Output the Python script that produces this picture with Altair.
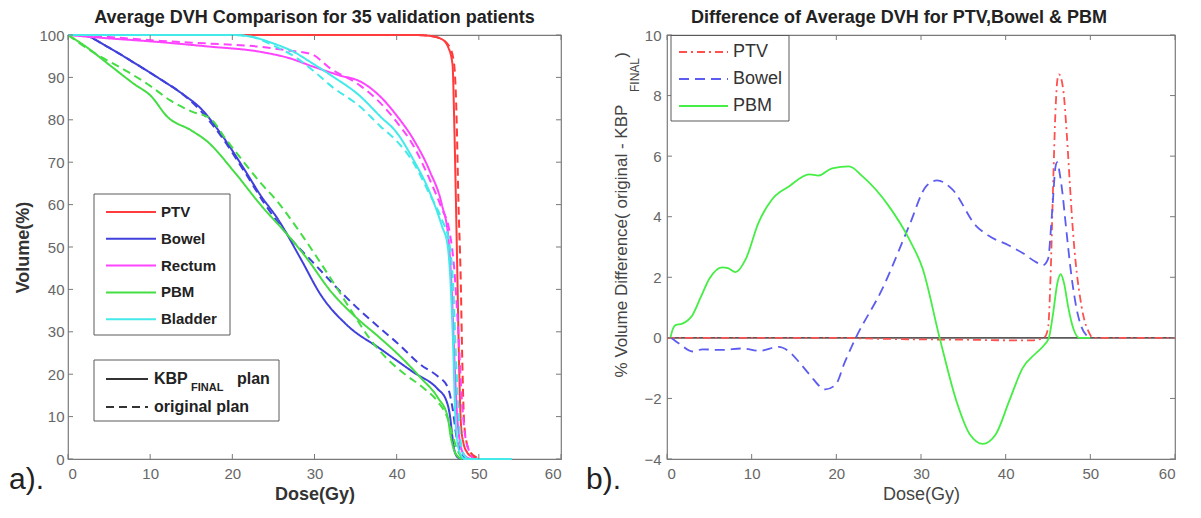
import altair as alt
import pandas as pd

# ---------------- data: left panel (average DVH) ----------------
ORGANS = ["PTV", "Bowel", "Rectum", "PBM", "Bladder"]
LEFT_COLORS = ["#ff3b3b", "#4040dc", "#ff44ff", "#44dd44", "#44eaea"]
PLANS = ["KBP_FINAL plan", "original plan"]

PTV_F_DOSE = [0, 42, 44, 45.5, 46.3, 46.8, 47.0, 47.2, 47.4, 47.6, 47.8, 48.1, 48.6, 49.3, 50]
PTV_F_VOL = [100, 100, 99.8, 99, 97, 93, 80, 62, 42, 22, 9, 4, 1.5, 0.4, 0]
PTV_O_DOSE = [0, 42, 44, 45.5, 46.5, 47.0, 47.3, 47.5, 47.8, 48.0, 48.2, 48.5, 49.0, 49.7, 50.3]
PTV_O_VOL = [100, 100, 99.8, 99, 97, 93, 80, 62, 42, 22, 9, 4, 1.5, 0.4, 0]

BOWEL_F_DOSE = [0, 1.6, 5, 8, 11.3, 14, 16.2, 18.5, 21.4, 23.5, 25.5, 28.3, 30.8, 34, 38, 42, 45, 46, 46.5, 46.8, 47.1, 47.5, 48]
BOWEL_F_VOL = [100, 100, 97, 93.5, 89.5, 86, 82.6, 77, 68.5, 62, 56.7, 47.3, 38.6, 31.5, 26, 20.5, 16.5, 14, 10, 5, 1.5, 0.3, 0]
BOWEL_O_DOSE = [0, 1.6, 5, 8, 11.3, 14, 16.2, 18.5, 21.4, 24, 27.1, 30, 32.8, 35, 38, 40, 43, 45, 46.2, 46.8, 47.3, 47.8, 48.3]
BOWEL_O_VOL = [100, 100, 97, 93.5, 89.5, 86, 82, 76.5, 68, 60, 52, 46, 40.2, 36, 30.8, 27.5, 22.1, 19.5, 17, 12, 5, 1.5, 0]

RECTUM_F_DOSE = [0, 3, 11.3, 17, 23.5, 27, 29.6, 33, 35.6, 38, 40, 42, 44, 45.5, 46.3, 46.7, 47.0, 47.3, 47.7, 48.2, 49]
RECTUM_F_VOL = [100, 99.5, 98.3, 97.3, 96, 94.5, 92.7, 90.5, 89, 85.5, 81, 75.5, 68, 60, 52, 40, 25, 12, 4, 1, 0]
RECTUM_O_DOSE = [0, 5, 11.3, 17, 23.5, 27, 29.6, 32, 35.6, 38, 40, 42, 44, 45.5, 46.4, 47.0, 47.5, 47.9, 48.3, 48.8, 49.3]
RECTUM_O_VOL = [100, 99.5, 98.6, 98, 97.2, 96.3, 95.5, 92, 88, 84, 79.5, 74, 66, 59, 54, 45, 30, 15, 6, 2, 0]

PBM_F_DOSE = [0, 2, 5.2, 8, 10.1, 12.1, 15, 17, 20.2, 23.5, 26.8, 29, 32, 35, 38, 40, 43, 45, 46.2, 46.6, 47, 47.5, 48]
PBM_F_VOL = [100, 97.5, 92.7, 88.5, 85.6, 80.7, 77.5, 74.8, 67.8, 59.8, 52.7, 47.5, 39.5, 33.5, 28.5, 25, 19, 14.5, 10, 5, 2, 0.5, 0]
PBM_O_DOSE = [0, 3, 7.3, 10, 12.5, 15, 17.4, 19, 21.4, 23.5, 25.5, 27.9, 29.6, 32, 34.8, 36.5, 38.9, 41, 43.3, 45, 46.2, 46.9, 47.4, 48, 48.4]
PBM_O_VOL = [100, 96, 91.3, 88, 84.5, 82, 80.2, 76, 70, 65, 60.7, 54.4, 49.6, 42.5, 34, 29, 23.5, 20, 16.7, 13.5, 9.6, 5, 2, 0.3, 0]

BLADDER_F_DOSE = [0, 20, 22, 25, 27.5, 29.6, 32, 35.6, 38, 40, 42, 44, 45.5, 46.2, 46.6, 46.9, 47.1, 47.4, 47.8, 48.3, 54]
BLADDER_F_VOL = [100, 100, 99.7, 98, 96, 93.5, 90.5, 85.5, 80.8, 77, 70.7, 63, 55, 50.4, 40, 25, 12, 4, 1, 0, 0]
BLADDER_O_DOSE = [0, 20, 22.5, 25, 27.5, 29.6, 32, 35.6, 38, 40, 42, 44, 45.5, 46.4, 46.9, 47.2, 47.5, 47.8, 48.2, 48.7]
BLADDER_O_VOL = [100, 100, 99.5, 97.5, 95, 92, 88, 83, 78.5, 75, 70, 62.5, 56.5, 51, 40, 25, 12, 4, 1, 0]

# ---------------- data: right panel (difference) ----------------
DIFF_NAMES = ["PTV", "Bowel", "PBM"]
DIFF_COLORS = ["#ff5050", "#5c5cf0", "#44ee44"]

PTV_D_DOSE = [0, 10, 20, 25, 30, 35, 40, 43, 44.5, 45.0, 45.3, 45.6, 45.9, 46.1, 46.3, 46.8, 47.2, 47.6, 47.9, 48.3, 48.7, 49.2, 49.8, 50.3, 60]
PTV_D_VAL = [0, 0, 0, -0.03, -0.05, -0.06, -0.08, -0.08, 0, 0.3, 2.0, 5.0, 7.6, 8.5, 8.7, 8.2, 6.8, 5.0, 3.7, 2.4, 1.5, 0.7, 0.2, 0, 0]

BOWEL_D_DOSE = [0.5, 1.5, 3.0, 4.2, 6.5, 8.9, 10.9, 13.2, 14.4, 15.6, 16.8, 18.7, 19.9, 21.0, 22.3, 25.4, 28.6, 30.6, 31.9, 33.7, 36.5, 38.0, 40.4, 42.0, 43.6, 44.4, 45.0, 45.5, 45.9, 46.1, 46.4, 46.7, 47.0, 47.3, 47.7, 48.1, 48.5, 48.9, 49.5, 50.2]
BOWEL_D_VAL = [0, -0.2, -0.45, -0.38, -0.4, -0.35, -0.43, -0.3, -0.45, -0.8, -1.2, -1.7, -1.55, -0.8, 0, 1.6, 3.7, 5.0, 5.2, 4.9, 3.7, 3.37, 3.05, 2.8, 2.5, 2.4, 2.6, 4.2, 5.67, 5.8, 5.4, 4.8, 4.0, 3.2, 2.2, 1.4, 0.8, 0.4, 0.1, 0]

PBM_D_DOSE = [0.4, 0.7, 1.0, 1.8, 3.0, 4.0, 5.0, 6.5, 7.2, 8.1, 9.3, 10.8, 12.4, 14.4, 16.8, 17.9, 19.5, 21.5, 23.1, 26.2, 28.6, 30.2, 32.2, 34.2, 35.8, 37.3, 38.8, 40.4, 42.0, 43.6, 44.5, 45.1, 45.6, 46.1, 46.5, 46.9, 47.4, 48.0, 48.7, 50]
PBM_D_VAL = [0, 0.3, 0.42, 0.47, 0.75, 1.35, 1.95, 2.33, 2.3, 2.17, 2.6, 3.8, 4.57, 5.0, 5.4, 5.36, 5.6, 5.66, 5.33, 4.35, 3.26, 2.28, 0, -2.1, -3.2, -3.5, -3.2, -2.1, -1.0, -0.5, -0.25, 0, 0.8, 1.8, 2.1, 1.8, 1.0, 0.3, 0, 0]

ZERO_DOSE = [0, 60]
ZERO_VAL = [0, 0]

X_TICKS = [0, 10, 20, 30, 40, 50, 60]
LEFT_Y_TICKS = [0, 10, 20, 30, 40, 50, 60, 70, 80, 90, 100]
RIGHT_Y_TICKS = [-4, -2, 0, 2, 4, 6, 8, 10]

# ---------------- build tables ----------------
left_series = [
    ("PTV", PLANS[0], PTV_F_DOSE, PTV_F_VOL), ("PTV", PLANS[1], PTV_O_DOSE, PTV_O_VOL),
    ("Bowel", PLANS[0], BOWEL_F_DOSE, BOWEL_F_VOL), ("Bowel", PLANS[1], BOWEL_O_DOSE, BOWEL_O_VOL),
    ("Rectum", PLANS[0], RECTUM_F_DOSE, RECTUM_F_VOL), ("Rectum", PLANS[1], RECTUM_O_DOSE, RECTUM_O_VOL),
    ("PBM", PLANS[0], PBM_F_DOSE, PBM_F_VOL), ("PBM", PLANS[1], PBM_O_DOSE, PBM_O_VOL),
    ("Bladder", PLANS[0], BLADDER_F_DOSE, BLADDER_F_VOL), ("Bladder", PLANS[1], BLADDER_O_DOSE, BLADDER_O_VOL),
]
rows = []
for organ, plan, ds, vs in left_series:
    for d, v in zip(ds, vs):
        rows.append({"organ": organ, "plan": plan, "dose": d, "vol": v})
df_left = pd.DataFrame(rows)

right_series = [("PTV", PTV_D_DOSE, PTV_D_VAL), ("Bowel", BOWEL_D_DOSE, BOWEL_D_VAL), ("PBM", PBM_D_DOSE, PBM_D_VAL)]
df_zero = pd.DataFrame({"dose": ZERO_DOSE, "diff": ZERO_VAL})

FONT = "Liberation Sans"
FRAME = "#7a7a7a"
LW, LH = 493, 424
RW, RH = 508, 424
one = pd.DataFrame({"a": [0]})

# ---------------- scales & axes ----------------
lx = alt.Scale(domain=[0, 60], nice=False)
ly = alt.Scale(domain=[0, 100], nice=False)
rx = alt.Scale(domain=[0, 60], nice=False)
ry = alt.Scale(domain=[-4, 10], nice=False)

LX_AXIS = alt.Axis(values=X_TICKS, title="Dose(Gy)", ticks=False, tickSize=0, domain=False, grid=False,
                   labelFontSize=15, labelColor="#666", labelPadding=7, labelFont=FONT,
                   titleFontSize=18, titleFontWeight="bold", titleColor="#333", titlePadding=4, titleFont=FONT)
LY_AXIS = alt.Axis(values=LEFT_Y_TICKS, title="Volume(%)", ticks=False, tickSize=0, domain=False, grid=False,
                   labelFontSize=15, labelColor="#666", labelPadding=4, labelFont=FONT,
                   titleFontSize=18, titleFontWeight="bold", titleColor="#333", titlePadding=6, titleFont=FONT)
RX_AXIS = alt.Axis(values=X_TICKS, title="Dose(Gy)", ticks=False, tickSize=0, domain=False, grid=False,
                   labelFontSize=15, labelColor="#666", labelPadding=7, labelFont=FONT,
                   titleFontSize=18, titleFontWeight="normal", titleColor="#444", titlePadding=4, titleFont=FONT)
RY_AXIS = alt.Axis(values=RIGHT_Y_TICKS, title=None, ticks=False, tickSize=0, domain=False, grid=False,
                   labelFontSize=15, labelColor="#666", labelPadding=6, labelFont=FONT)


def inner_ticks(values, channel, w, h, scale, axis):
    df = pd.DataFrame({"t": values})
    base = alt.Chart(df).mark_rule(color=FRAME, strokeWidth=1)
    if channel == "x":
        enc = alt.X("t:Q", scale=scale, axis=axis)
        return [base.encode(x=enc, y=alt.value(h), y2=alt.value(h - 5)),
                base.encode(x=enc, y=alt.value(0), y2=alt.value(5))]
    enc = alt.Y("t:Q", scale=scale, axis=axis)
    return [base.encode(y=enc, x=alt.value(0), x2=alt.value(5)),
            base.encode(y=enc, x=alt.value(w), x2=alt.value(w - 5))]


def txt(s, x, y, size, bold=False, color="#222", align="left", angle=0):
    kw = dict(text=s, fontSize=size, font=FONT, fontWeight="bold" if bold else "normal",
              color=color, align=align, baseline="middle")
    if angle:
        kw["angle"] = angle
    return alt.Chart(one).mark_text(**kw).encode(x=alt.value(x), y=alt.value(y))


def box(x1, x2, y1, y2):
    return alt.Chart(one).mark_rect(fill="white", stroke="#5a5a5a", strokeWidth=1).encode(
        x=alt.value(x1), x2=alt.value(x2), y=alt.value(y1), y2=alt.value(y2))


def seg(x1, x2, y, color, dash=None, width=2):
    kw = dict(color=color, strokeWidth=width)
    if dash:
        kw["strokeDash"] = dash
    return alt.Chart(one).mark_rule(**kw).encode(x=alt.value(x1), x2=alt.value(x2), y=alt.value(y))


# ---------------- left panel ----------------
left_lines = alt.Chart(df_left).mark_line(strokeWidth=2, interpolate="monotone").encode(
    x=alt.X("dose:Q", scale=lx, axis=LX_AXIS),
    y=alt.Y("vol:Q", scale=ly, axis=LY_AXIS),
    color=alt.Color("organ:N", scale=alt.Scale(domain=ORGANS, range=LEFT_COLORS), legend=None),
    strokeDash=alt.StrokeDash("plan:N", scale=alt.Scale(domain=PLANS, range=[[1, 0], [8, 5]]), legend=None),
)

left_layers = [left_lines]
left_layers += inner_ticks(X_TICKS, "x", LW, LH, lx, LX_AXIS)
left_layers += inner_ticks(LEFT_Y_TICKS, "y", LW, LH, ly, LY_AXIS)
left_layers.append(box(26, 162, 159, 300))
for i, (name, col) in enumerate(zip(ORGANS, LEFT_COLORS)):
    yy = 177 + 26.8 * i
    left_layers.append(seg(38, 88, yy, col))
    left_layers.append(txt(name, 93, yy, 15, bold=True))
left_layers.append(box(26, 211, 325, 386))
left_layers.append(seg(38, 80, 344, "#333"))
left_layers.append(txt("KBP", 86, 344, 16, bold=True))
left_layers.append(txt("FINAL", 123, 353, 11, bold=True))
left_layers.append(txt("plan", 169, 344, 16, bold=True))
left_layers.append(seg(38, 80, 372, "#333", dash=[8, 5]))
left_layers.append(txt("original plan", 86, 372, 16, bold=True))
left_layers.append(txt("a).", -59, 445, 30, color="#222"))

left = alt.layer(*left_layers).properties(
    width=LW, height=LH,
    title=alt.TitleParams("Average DVH Comparison for 35 validation patients", fontSize=18,
                          fontWeight="bold", color="#222", font=FONT, offset=1, anchor="middle"))

# ---------------- right panel ----------------
zero_line = alt.Chart(df_zero).mark_line(color="#5a5a5a", strokeWidth=1.6).encode(
    x=alt.X("dose:Q", scale=rx, axis=RX_AXIS),
    y=alt.Y("diff:Q", scale=ry, axis=RY_AXIS),
)

right_layers = [zero_line]
dashes = [[8, 4, 2, 4], [10, 6], None]
for (name, ds, vs), col, dash in zip(right_series, DIFF_COLORS, dashes):
    kw = dict(color=col, strokeWidth=1.8, interpolate="monotone")
    if dash:
        kw["strokeDash"] = dash
    right_layers.append(
        alt.Chart(pd.DataFrame({"dose": ds, "diff": vs})).mark_line(**kw).encode(
            x=alt.X("dose:Q", scale=rx, axis=RX_AXIS),
            y=alt.Y("diff:Q", scale=ry, axis=RY_AXIS)))
right_layers += inner_ticks(X_TICKS, "x", RW, RH, rx, RX_AXIS)
right_layers += inner_ticks(RIGHT_Y_TICKS, "y", RW, RH, ry, RY_AXIS)
right_layers.append(box(4, 122, 0.5, 86))
for i, (name, col) in enumerate(zip(DIFF_NAMES, DIFF_COLORS)):
    yy = 17 + 27 * i
    right_layers.append(seg(12, 61, yy, col, dash=dashes[i], width=1.8))
    right_layers.append(txt(name, 66, yy, 18, color="#333"))
right_layers.append(txt("% Volume Difference( original - KBP", -45, 206, 17, color="#444", align="center", angle=270))
right_layers.append(txt("FINAL", -32, 40, 12, color="#444", align="center", angle=270))
right_layers.append(txt(")", -45, 20, 17, color="#444", align="center", angle=270))
right_layers.append(txt("b).", -81, 445, 30, color="#222"))

right = alt.layer(*right_layers).properties(
    width=RW, height=RH,
    title=alt.TitleParams("Difference of Average DVH for PTV,Bowel & PBM", fontSize=18,
                          fontWeight="bold", color="#222", font=FONT, offset=1, anchor="middle", dx=-22))

chart = alt.hconcat(left, right, spacing=22).properties(padding=0).configure(
    font=FONT).configure_view(stroke=FRAME, strokeWidth=1.2)

chart.save("out.html", embed_options={"renderer": "svg", "actions": False})
